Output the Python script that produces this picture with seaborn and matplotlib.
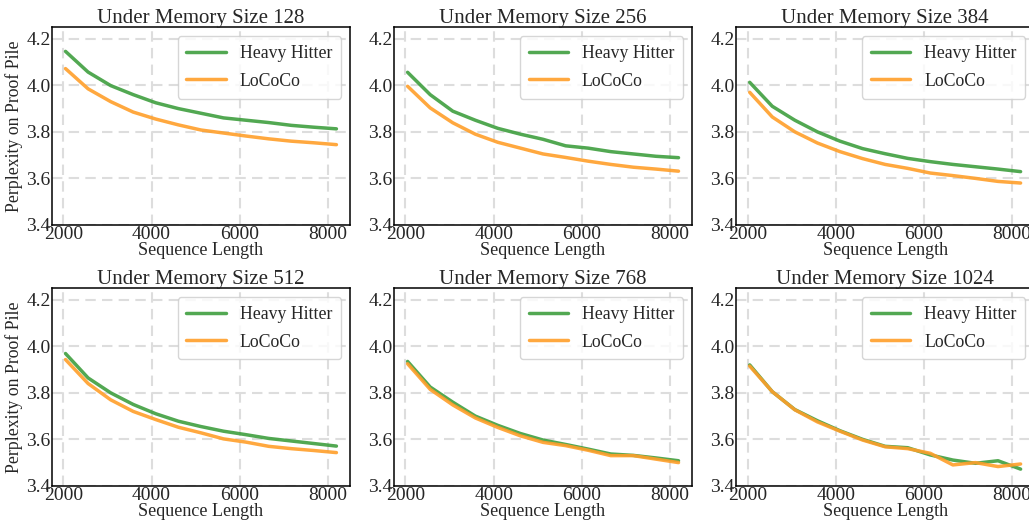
import numpy as np
import pandas as pd
import seaborn as sns
import matplotlib
matplotlib.use("Agg")
import matplotlib.pyplot as plt

# sequence lengths evaluated
seq_len = [2048, 2560, 3072, 3584, 4096, 4608, 5120, 5632, 6144, 6656, 7168, 7680, 8192]
mem_sizes = [128, 256, 384, 512, 768, 1024]

# perplexity values, one list per memory size
heavy_hitter = {
    128: [4.146, 4.057, 3.999, 3.960, 3.925, 3.900, 3.880, 3.860, 3.850, 3.840, 3.828, 3.820, 3.813],
    256: [4.056, 3.960, 3.889, 3.850, 3.815, 3.790, 3.768, 3.740, 3.730, 3.715, 3.705, 3.695, 3.689],
    384: [4.013, 3.910, 3.850, 3.800, 3.760, 3.728, 3.706, 3.686, 3.672, 3.660, 3.650, 3.640, 3.629],
    512: [3.969, 3.864, 3.800, 3.750, 3.710, 3.678, 3.655, 3.635, 3.620, 3.604, 3.593, 3.582, 3.571],
    768: [3.935, 3.825, 3.760, 3.700, 3.660, 3.625, 3.597, 3.578, 3.558, 3.537, 3.531, 3.520, 3.508],
    1024: [3.920, 3.805, 3.728, 3.680, 3.637, 3.600, 3.570, 3.564, 3.533, 3.511, 3.497, 3.508, 3.472],
}
lococo = {
    128: [4.072, 3.985, 3.930, 3.885, 3.855, 3.830, 3.808, 3.795, 3.782, 3.770, 3.760, 3.753, 3.745],
    256: [3.996, 3.903, 3.839, 3.790, 3.755, 3.730, 3.705, 3.690, 3.674, 3.660, 3.648, 3.640, 3.631],
    384: [3.970, 3.864, 3.800, 3.752, 3.715, 3.685, 3.660, 3.643, 3.623, 3.612, 3.600, 3.587, 3.580],
    512: [3.943, 3.840, 3.770, 3.720, 3.685, 3.652, 3.628, 3.602, 3.588, 3.570, 3.560, 3.552, 3.543],
    768: [3.925, 3.815, 3.748, 3.692, 3.651, 3.615, 3.587, 3.573, 3.553, 3.530, 3.530, 3.515, 3.500],
    1024: [3.915, 3.805, 3.727, 3.675, 3.635, 3.597, 3.568, 3.560, 3.540, 3.490, 3.500, 3.483, 3.494],
}

GREEN = "#3f9f3f"
ORANGE = "#ff9f2a"

sns.set_style("white")
plt.rcParams['font.family'] = ['Liberation Serif', 'DejaVu Serif']


def draw_panel(ax, mem):
    df = pd.DataFrame({
        "Sequence Length": seq_len * 2,
        "ppl": heavy_hitter[mem] + lococo[mem],
        "method": ["Heavy Hitter"] * len(seq_len) + ["LoCoCo"] * len(seq_len),
    })
    sns.lineplot(data=df, x="Sequence Length", y="ppl", hue="method",
                 palette={"Heavy Hitter": GREEN, "LoCoCo": ORANGE},
                 linewidth=2.5, alpha=0.9, ax=ax)
    ax.set_title(f"Under Memory Size {mem}", fontsize=15, pad=3)
    ax.set_ylim(3.4, 4.25)
    ax.set_yticks([3.4, 3.6, 3.8, 4.0, 4.2])
    ax.set_xticks([2000, 4000, 6000, 8000])
    ax.grid(True, linestyle=(0, (5, 3)), color="#dddddd", linewidth=1.5)
    ax.tick_params(labelsize=14, length=0, pad=1)
    ax.set_xlabel("Sequence Length", fontsize=13, labelpad=-1)
    ax.set_ylabel("")
    for s in ax.spines.values():
        s.set_color("black")
        s.set_linewidth(1.1)
    leg = ax.legend(loc="upper right", fontsize=12.8, handlelength=2.2,
                    borderpad=0.5, labelspacing=0.6)
    leg.get_frame().set_edgecolor("#cccccc")


fig, axes = plt.subplots(2, 3, figsize=(10.29, 5.23), dpi=100)
plt.subplots_adjust(left=0.0505, right=1.005, top=0.948, bottom=0.071,
                    wspace=0.148, hspace=0.32)

for ax, mem in zip(axes.flat, mem_sizes):
    draw_panel(ax, mem)

for ax in axes[:, 0]:
    ax.set_ylabel("Perplexity on Proof Pile", fontsize=12.8, labelpad=2)

fig.savefig("out.png", dpi=100)
